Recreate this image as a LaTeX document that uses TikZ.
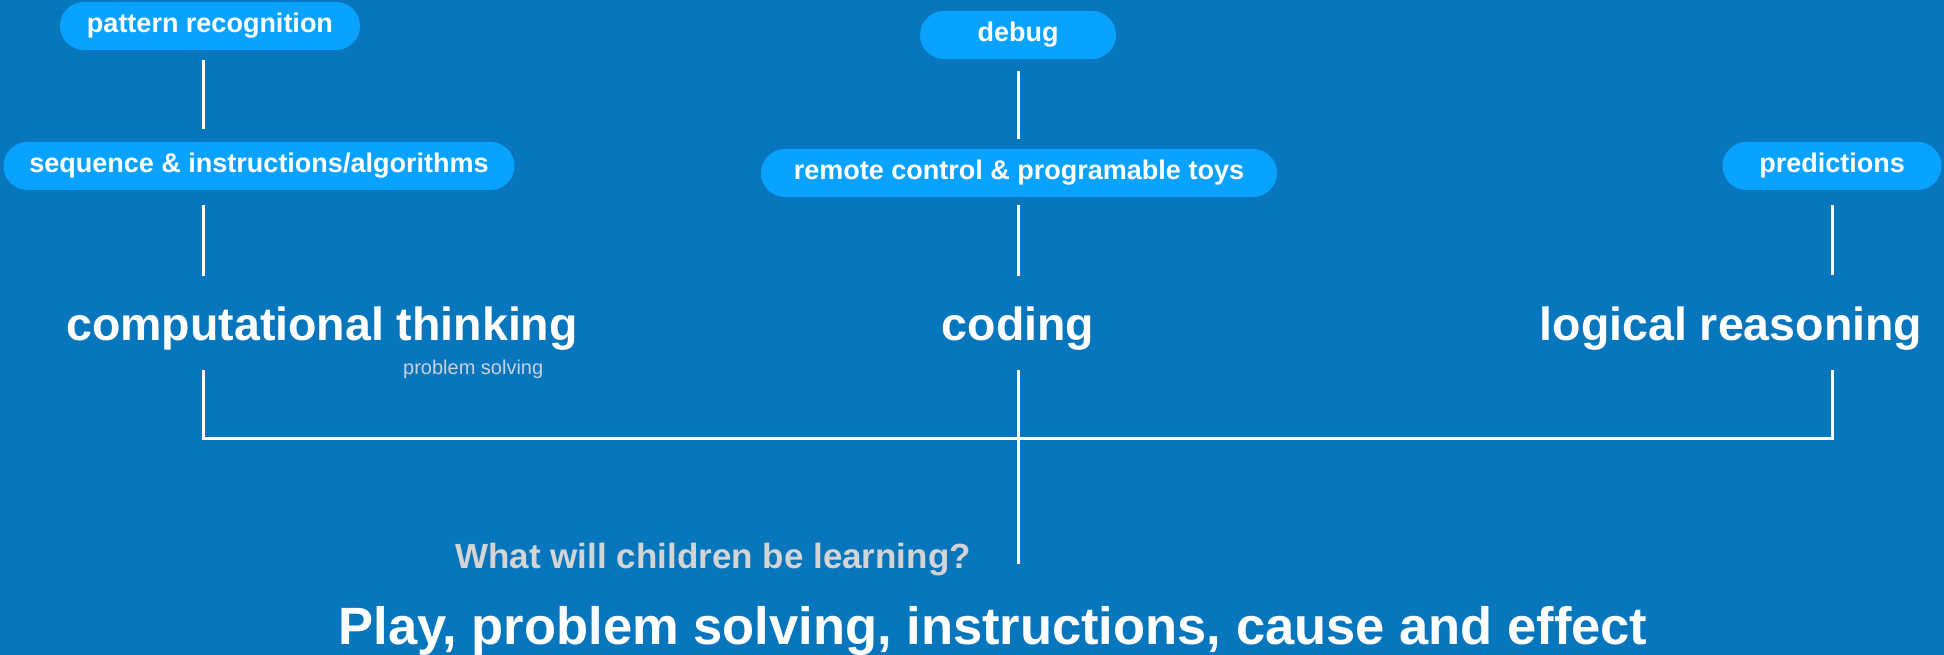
\documentclass[tikz,border=0pt]{standalone}
\usepackage{fontspec}
\setmainfont{Liberation Sans}
\definecolor{bg}{RGB}{8,118,189}
\definecolor{pill}{RGB}{10,162,255}
\definecolor{qgray}{RGB}{212,212,212}
\definecolor{psgray}{RGB}{200,210,222}
\begin{document}
\begin{tikzpicture}[x=1pt,y=-1pt,
  pillbox/.style={rectangle, rounded corners=24pt, fill=pill, text=white,
    font=\fontsize{27}{30}\selectfont\bfseries, minimum height=48pt, inner sep=0pt,
    text height=20pt, text depth=6pt},
  mainlabel/.style={text=white, font=\fontsize{46.5}{50}\selectfont\bfseries,
    inner sep=0pt, anchor=base},
  link/.style={draw=white, line width=3pt}]
\fill[bg] (0,0) rectangle (1944,655);
\useasboundingbox (0,0) rectangle (1944,655);

% pills
\node[pillbox, minimum width=300pt] (pat) at (210,26) {pattern recognition};
\node[pillbox, minimum width=511pt] (seq) at (259,166) {sequence \& instructions/algorithms};
\node[pillbox, minimum width=196pt] (dbg) at (1018,35) {debug};
\node[pillbox, minimum width=516pt] (rem) at (1019,173) {remote control \& programable toys};
\node[pillbox, minimum width=219pt] (pred) at (1832,166) {predictions};

% main labels
\node[mainlabel] (ct) at (322,340.5) {computational thinking};
\node[mainlabel] (cod) at (1018,340.5) {coding};
\node[mainlabel] (lr) at (1731,340.5) {logical reasoning};
\node[text=psgray, font=\fontsize{20}{22}\selectfont, inner sep=0pt, anchor=base west] (ps) at (403,374) {problem solving};
\node[text=qgray, font=\fontsize{35}{38}\selectfont\bfseries, inner sep=0pt, anchor=base east] (q) at (971,568) {What will children be learning?};
\node[text=white, font=\fontsize{52.5}{56}\selectfont\bfseries, inner sep=0pt, anchor=base] (play) at (993,644) {Play, problem solving, instructions, cause and effect};

% coordinates
\coordinate (xl) at (203,0);
\coordinate (xm) at (1018,0);
\coordinate (xr) at (1832,0);
\coordinate (bl) at (203,438);
\coordinate (br) at (1832,438);
\coordinate (mend) at (1018,564);

% connectors
\draw[link, shorten <=10pt, shorten >=13pt] (pat.south -| xl) -- (seq.north -| xl);
\draw[link, shorten <=15pt, shorten >=31pt] (seq.south -| xl) -- (ct.north -| xl);
\draw[link, shorten <=12pt, shorten >=10pt] (dbg.south -| xm) -- (rem.north -| xm);
\draw[link, shorten <=8pt, shorten >=31pt] (rem.south -| xm) -- (cod.north -| xm);
\draw[link, shorten <=15pt, shorten >=32pt] (pred.south -| xr) -- (lr.north -| xr);
\draw[link, shorten <=19pt, shorten >=19pt] (ct.south -| bl) -- (bl) -- (br) -- (lr.south -| br);
\draw[link, shorten <=19pt] (cod.south -| xm) -- (mend);
\end{tikzpicture}
\end{document}
